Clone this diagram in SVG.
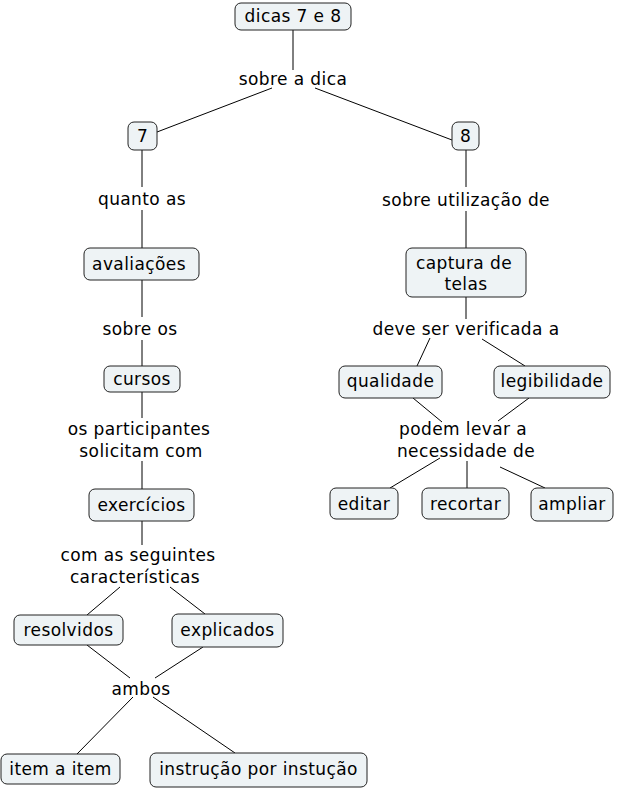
<svg xmlns="http://www.w3.org/2000/svg" width="617" height="789" viewBox="0 0 617 789">
<style>
.n rect{fill:#eef3f5;stroke:#222;stroke-width:1;}
text{font-family:"DejaVu Sans",Verdana,sans-serif;font-size:17px;letter-spacing:0.4px;fill:#000;text-anchor:middle;}
.c line{stroke:#000;stroke-width:1;}
</style>
<rect width="617" height="789" fill="#fff"/>
<g class="c" id="connectors">
<line x1="293" y1="30" x2="293" y2="70"/>
<line x1="272" y1="88" x2="157" y2="132"/>
<line x1="315" y1="88" x2="452" y2="140"/>
<line x1="142" y1="150" x2="142" y2="187"/>
<line x1="142" y1="210" x2="142" y2="248"/>
<line x1="466" y1="150" x2="466" y2="187"/>
<line x1="466" y1="211" x2="466" y2="248"/>
<line x1="142" y1="280" x2="142" y2="317"/>
<line x1="142" y1="340" x2="142" y2="366"/>
<line x1="466" y1="297" x2="466" y2="319"/>
<line x1="430" y1="338" x2="417" y2="366"/>
<line x1="482" y1="339" x2="525" y2="366"/>
<line x1="413" y1="398" x2="442" y2="422"/>
<line x1="529" y1="398" x2="498" y2="421"/>
<line x1="440" y1="458" x2="390" y2="488"/>
<line x1="467" y1="461" x2="467" y2="488"/>
<line x1="500" y1="467" x2="545" y2="488"/>
<line x1="142" y1="392" x2="142" y2="418"/>
<line x1="142" y1="461" x2="142" y2="489"/>
<line x1="142" y1="521" x2="142" y2="545"/>
<line x1="120" y1="587" x2="87" y2="615"/>
<line x1="170" y1="587" x2="205" y2="614"/>
<line x1="87" y1="645" x2="130" y2="678"/>
<line x1="203" y1="647" x2="155" y2="678"/>
<line x1="133" y1="697" x2="77" y2="754"/>
<line x1="153" y1="697" x2="235" y2="753"/>
</g>
<g id="labels">
<text x="293" y="85">sobre a dica</text>
<text x="142" y="205">quanto as</text>
<text x="466" y="206">sobre utilização de</text>
<text x="140" y="335">sobre os</text>
<text x="466" y="335">deve ser verificada a</text>
<text x="139" y="435">os participantes</text>
<text x="141" y="457">solicitam com</text>
<text x="463" y="435">podem levar a</text>
<text x="466" y="457">necessidade de</text>
<text x="138" y="561">com as seguintes</text>
<text x="135" y="583">características</text>
<text x="141" y="695">ambos</text>
</g>
<g class="n" id="n-dicas"><rect x="235" y="3" width="116" height="27" rx="6"/><text x="293" y="22">dicas 7 e 8</text></g>
<g class="n" id="n-7"><rect x="128" y="122" width="29" height="28" rx="6"/><text x="142.5" y="142">7</text></g>
<g class="n" id="n-8"><rect x="452" y="122" width="27" height="28" rx="6"/><text x="465.5" y="142">8</text></g>
<g class="n" id="n-avaliacoes"><rect x="84" y="248" width="115" height="32" rx="6"/><text x="139" y="270">avaliações</text></g>
<g class="n" id="n-captura"><rect x="406" y="248" width="120" height="49" rx="6"/><text x="464" y="269">captura de</text><text x="466" y="290">telas</text></g>
<g class="n" id="n-cursos"><rect x="104" y="366" width="76" height="26" rx="6"/><text x="142" y="385">cursos</text></g>
<g class="n" id="n-qualidade"><rect x="339" y="366" width="103" height="32" rx="6"/><text x="390.5" y="387">qualidade</text></g>
<g class="n" id="n-legibilidade"><rect x="494" y="366" width="116" height="32" rx="6"/><text x="552" y="387">legibilidade</text></g>
<g class="n" id="n-exercicios"><rect x="89" y="489" width="105" height="32" rx="6"/><text x="141.5" y="511">exercícios</text></g>
<g class="n" id="n-editar"><rect x="330" y="488" width="68" height="31" rx="6"/><text x="364" y="510">editar</text></g>
<g class="n" id="n-recortar"><rect x="422" y="488" width="87" height="31" rx="6"/><text x="465.5" y="510">recortar</text></g>
<g class="n" id="n-ampliar"><rect x="531" y="488" width="82" height="33" rx="6"/><text x="572" y="510">ampliar</text></g>
<g class="n" id="n-resolvidos"><rect x="14" y="615" width="109" height="30" rx="6"/><text x="68.5" y="636">resolvidos</text></g>
<g class="n" id="n-explicados"><rect x="172" y="614" width="111" height="33" rx="6"/><text x="227.5" y="636">explicados</text></g>
<g class="n" id="n-item"><rect x="1" y="754" width="119" height="30" rx="6"/><text x="60.5" y="775">item a item</text></g>
<g class="n" id="n-instrucao"><rect x="150" y="753" width="217" height="34" rx="6"/><text x="258.5" y="775">instrução por instução</text></g>
</svg>
